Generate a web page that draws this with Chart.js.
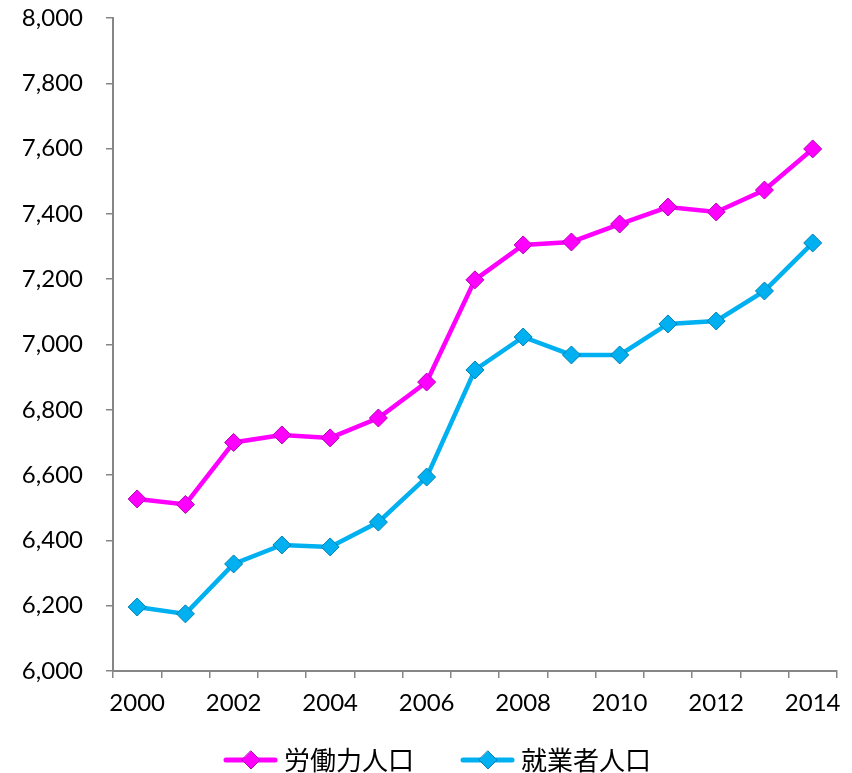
<!DOCTYPE html>
<html><head><meta charset="utf-8">
<script src="https://cdn.jsdelivr.net/npm/chart.js@4/dist/chart.umd.min.js"></script>
<style>html,body{margin:0;padding:0;background:#fff}#wrap{width:852px;height:773px}</style>
</head><body><div id="wrap"><canvas id="c" width="852" height="773"></canvas></div>
<script>
const years = ["2000","2001","2002","2003","2004","2005","2006","2007","2008","2009","2010","2011","2012","2013","2014"];
const laborForce = [6527,6510,6700,6723,6714,6775,6885,7198,7305,7314,7369,7421,7406,7473,7599];
const employed = [6196,6175,6328,6386,6380,6456,6594,6922,7023,6968,6968,7063,7072,7164,7311];
const seriesNames = ["労働力人口","就業者人口"];
const yMin = 6000, yMax = 8000, yStep = 200;

const magenta = "#FF00FF", magentaDark = "#B400B4";
const cyan = "#00B0F0", cyanDark = "#0080B0";

function legendIcon(color, dark){
  const cv = document.createElement('canvas');
  cv.width = 98; cv.height = 22;
  const g = cv.getContext('2d');
  g.strokeStyle = color; g.lineWidth = 5; g.lineCap = 'round';
  g.beginPath(); g.moveTo(46,11); g.lineTo(95,11); g.stroke();
  g.fillStyle = color; g.strokeStyle = dark; g.lineWidth = 1;
  g.beginPath(); g.moveTo(71,2); g.lineTo(80,11); g.lineTo(71,20); g.lineTo(62,11); g.closePath();
  g.fill(); g.stroke();
  return cv;
}
const icons = [legendIcon(magenta, magentaDark), legendIcon(cyan, cyanDark)];

const tickFont = {family: "Lato, 'Liberation Sans', sans-serif", size: 24};

new Chart(document.getElementById('c'), {
  type: 'line',
  data: {
    labels: years,
    datasets: [
      {label: seriesNames[0], data: laborForce, borderColor: magenta, backgroundColor: magenta,
       borderWidth: 4.5, pointStyle: 'rectRot', pointRadius: 9, pointBackgroundColor: magenta,
       pointBorderColor: magentaDark, pointBorderWidth: 1, tension: 0},
      {label: seriesNames[1], data: employed, borderColor: cyan, backgroundColor: cyan,
       borderWidth: 4.5, pointStyle: 'rectRot', pointRadius: 9, pointBackgroundColor: cyan,
       pointBorderColor: cyanDark, pointBorderWidth: 1, tension: 0}
    ]
  },
  options: {
    responsive: false, animation: false,
    layout: {padding: {left: 0, right: 14, top: 0, bottom: -10}},
    plugins: {
      tooltip: {enabled: false},
      legend: {
        position: 'bottom',
        labels: {
          usePointStyle: true, pointStyleWidth: 84, padding: 10,
          color: '#000',
          font: {family: "'Noto Sans CJK JP', sans-serif", size: 26},
          generateLabels: (chart) => chart.data.datasets.map((ds, i) => ({
            text: ds.label, pointStyle: icons[i], datasetIndex: i,
            fillStyle: ds.borderColor, strokeStyle: ds.borderColor, lineWidth: 0, hidden: false
          }))
        }
      }
    },
    scales: {
      x: {
        type: 'category', offset: true,
        grid: {offset: true, drawOnChartArea: false, drawTicks: true, tickLength: 7, color: '#868686', lineWidth: 1.5},
        border: {color: '#868686', width: 2},
        ticks: {autoSkip: false, maxRotation: 0, padding: 11, color: '#000', font: tickFont,
          callback: function(v, i){ return i % 2 === 0 ? this.getLabelForValue(v) : ''; }},
        afterFit: (s) => { s.height = 66; }
      },
      y: {
        min: yMin, max: yMax,
        grid: {drawOnChartArea: false, drawTicks: true, tickLength: 7, color: '#868686', lineWidth: 1.5},
        border: {color: '#868686', width: 2},
        ticks: {stepSize: yStep, padding: 23, color: '#000', font: tickFont,
          callback: (v) => v.toLocaleString('en-US')},
        afterFit: (s) => { s.width = 113; s.paddingTop = 18; s.paddingBottom = 0; }
      }
    }
  }
});
</script>
</body></html>
